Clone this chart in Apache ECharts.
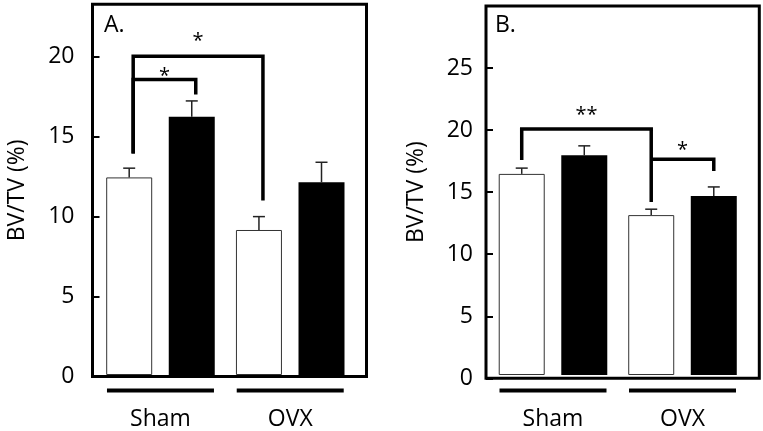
<!DOCTYPE html>
<html><head><meta charset="utf-8">
<script src="https://cdn.jsdelivr.net/npm/echarts@6/dist/echarts.min.js"></script>
<style>html,body{margin:0;padding:0;background:#fff}#c{width:763px;height:431px}</style>
</head><body><div id="c"></div>
<script>
// ---- data ----
const groups = ['Sham', 'OVX'];
const yTicksA = [0, 5, 10, 15, 20];
const yTicksB = [0, 5, 10, 15, 20, 25];

const aControl = [12.4, 9.1];
const aControlErr = [0.58, 0.84];
const aTreated = [16.2, 12.1];
const aTreatedErr = [1.0, 1.25];

const bControl = [16.35, 13.0];
const bControlErr = [0.47, 0.48];
const bTreated = [17.87, 14.56];
const bTreatedErr = [0.76, 0.73];

// significance brackets: [category, side(-1 control / +1 treated)]
const aBracketFrom = [[0, -1], [0, -1]];
const aBracketTo = [[1, -1], [0, 1]];
const aBracketTop = [20, 18.55];
const aBracketDropL = [13.9, 13.9];
const aBracketDropR = [10.95, 17.6];
const aStars = ['*', '*'];
const aStarY = [21.25, 19.06];

const bBracketFrom = [[0, -1], [1, -1]];
const bBracketTo = [[1, -1], [1, 1]];
const bBracketTop = [20, 17.55];
const bBracketDropL = [17.47, 17.55];
const bBracketDropR = [14.06, 16.58];
const bStars = ['**', '*'];
const bStarY = [21.5, 18.68];

// ---- layout / style ----
const FONT = '"Open Sans", sans-serif';
const FS = 23;
const BAR_W = 46, GAP = 0.36, BAR_OFF = BAR_W * (1 + GAP) / 2;

const panels = [
  { label: 'A.', labelPos: [104, 14], frame: { left: 92.5, top: 4.2, width: 274, height: 372.4 },
    inner: { left: 95.6, width: 259.5 }, max: 23.27, ticks: yTicksA, labelMargin: 18, nameGap: 64,
    control: aControl, controlErr: aControlErr, treated: aTreated, treatedErr: aTreatedErr,
    bFrom: aBracketFrom, bTo: aBracketTo, bTop: aBracketTop, bDropL: aBracketDropL, bDropR: aBracketDropR,
    stars: aStars, starY: aStarY, shift: 4 },
  { label: 'B.', labelPos: [495, 14], frame: { left: 486, top: 6, width: 273.3, height: 372.3 },
    inner: { left: 488.25, width: 259 }, max: 30, ticks: yTicksB, labelMargin: 13, nameGap: 58,
    control: bControl, controlErr: bControlErr, treated: bTreated, treatedErr: bTreatedErr,
    bFrom: bBracketFrom, bTo: bBracketTo, bTop: bBracketTop, bDropL: bBracketDropL, bDropR: bBracketDropR,
    stars: bStars, starY: bStarY, shift: 0 }
];

const grid = [], xAxis = [], yAxis = [], series = [], title = [];

panels.forEach((p, k) => {
  const gf = 2 * k, gi = 2 * k + 1;
  grid.push({ left: p.frame.left, top: p.frame.top, width: p.frame.width, height: p.frame.height,
    show: true, borderColor: '#000', borderWidth: 3, backgroundColor: 'transparent', containLabel: false });
  grid.push({ left: p.inner.left, top: p.frame.top, width: p.inner.width, height: p.frame.height,
    show: false, containLabel: false });
  xAxis.push({ type: 'value', gridIndex: gf, show: false });
  xAxis.push({ type: 'category', gridIndex: gi, data: groups,
    axisLine: { show: false }, axisTick: { show: false },
    axisLabel: { fontSize: FS, color: '#000', fontFamily: FONT, margin: 33 } });
  yAxis.push({ type: 'value', gridIndex: gf, min: 0, max: p.max,
    name: 'BV/TV (%)', nameLocation: 'middle', nameRotate: 90, nameGap: p.nameGap,
    nameTextStyle: { fontSize: FS, color: '#000', fontFamily: FONT },
    axisLine: { show: false },
    axisTick: { show: true, inside: true, length: 7, lineStyle: { color: '#000', width: 2 }, customValues: p.ticks },
    axisLabel: { fontSize: FS, color: '#000', fontFamily: FONT, margin: p.labelMargin, customValues: p.ticks },
    splitLine: { show: false } });
  yAxis.push({ type: 'value', gridIndex: gi, min: 0, max: p.max, show: false, splitLine: { show: false } });

  title.push({ text: p.label, left: p.labelPos[0], top: p.labelPos[1], padding: 0,
    textStyle: { fontSize: FS, fontWeight: 'normal', color: '#000', fontFamily: FONT } });

  const xi = 2 * k + 1, yi = 2 * k + 1;
  series.push({ type: 'bar', xAxisIndex: xi, yAxisIndex: yi, data: p.control, barWidth: BAR_W,
    barGap: (GAP * 100) + '%', itemStyle: { color: '#fff', borderColor: '#333', borderWidth: 1 }, silent: true });
  series.push({ type: 'bar', xAxisIndex: xi, yAxisIndex: yi, data: p.treated, barWidth: BAR_W,
    barGap: (GAP * 100) + '%', itemStyle: { color: '#000' }, silent: true });

  [[p.control, p.controlErr, -1], [p.treated, p.treatedErr, 1]].forEach(([m, e, side]) => {
    series.push({ type: 'custom', xAxisIndex: xi, yAxisIndex: yi, clip: false, silent: true, z: 1,
      data: groups.map((g, i) => [i, m[i], e[i]]),
      renderItem: (params, api) => {
        const i = api.value(0), mv = api.value(1), ev = api.value(2);
        const b = api.coord([i, mv]), t = api.coord([i, mv + ev]);
        const x = b[0] + side * BAR_OFF;
        const st = { stroke: '#222', lineWidth: 1.5 };
        return { type: 'group', children: [
          { type: 'line', shape: { x1: x, y1: b[1], x2: x, y2: t[1] }, style: st },
          { type: 'line', shape: { x1: x - 6, y1: t[1], x2: x + 6, y2: t[1] }, style: st }
        ] };
      } });
  });

  // brackets + stars
  series.push({ type: 'custom', xAxisIndex: xi, yAxisIndex: yi, clip: false, silent: true, z: 5,
    data: p.bTop.map((t, j) => [p.bFrom[j][0], t]),
    renderItem: (params, api) => {
      const j = params.dataIndex;
      const xL = api.coord([p.bFrom[j][0], 0])[0] + p.bFrom[j][1] * BAR_OFF + p.shift;
      const xR = api.coord([p.bTo[j][0], 0])[0] + p.bTo[j][1] * BAR_OFF + p.shift;
      const yT = api.coord([0, p.bTop[j]])[1];
      const yL = api.coord([0, p.bDropL[j]])[1];
      const yR = api.coord([0, p.bDropR[j]])[1];
      const yS = api.coord([0, p.starY[j]])[1];
      return { type: 'group', children: [
        { type: 'polyline', shape: { points: [[xL, yL], [xL, yT], [xR, yT], [xR, yR]] },
          style: { stroke: '#000', lineWidth: 3.5, fill: null, lineJoin: 'miter' } },
        { type: 'text', x: (xL + xR) / 2, y: yS + 5,
          style: { text: p.stars[j], font: '20px ' + FONT, fill: '#000',
            align: 'center', verticalAlign: 'middle', textAlign: 'center', textVerticalAlign: 'middle' } }
      ] };
    } });

  // group underlines
  series.push({ type: 'custom', xAxisIndex: xi, yAxisIndex: yi, clip: false, silent: true,
    data: groups.map((g, i) => [i, 0]),
    renderItem: (params, api) => {
      const c = api.coord([api.value(0), 0]);
      return { type: 'line', shape: { x1: c[0] - 53.5, y1: c[1] + 15.5, x2: c[0] + 53.5, y2: c[1] + 15.5 },
        style: { stroke: '#000', lineWidth: 4 } };
    } });
});

const chart = echarts.init(document.getElementById('c'), null, { renderer: 'canvas' });
chart.setOption({ animation: false, backgroundColor: '#fff', title, grid, xAxis, yAxis, series });
</script>
</body></html>
